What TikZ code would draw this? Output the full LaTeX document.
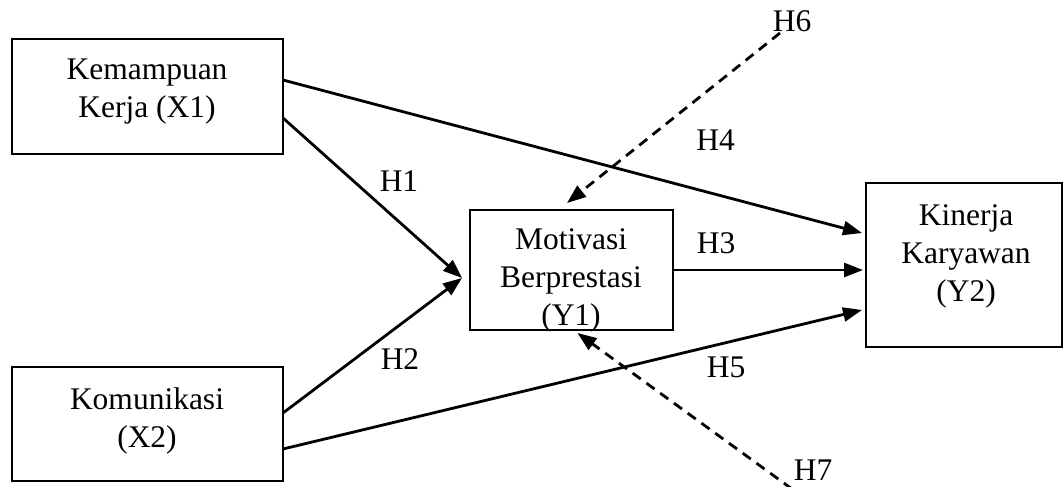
\documentclass[tikz,border=0pt]{standalone}
\usepackage{fontspec}
\setmainfont{Liberation Serif}
\usetikzlibrary{arrows.meta}

\begin{document}
\begin{tikzpicture}[x=1pt,y=-1pt,
  varbox/.style={draw, line width=2.2pt, inner sep=0pt, outer sep=0pt},
  vartext/.style={align=center, inner sep=0pt,
    font=\fontsize{31.5}{38}\selectfont},
  hyplabel/.style={anchor=base, inner sep=0pt,
    font=\fontsize{31.5}{38}\selectfont},
  path/.style={line width=2.8pt, -{Triangle[length=19pt,width=14pt]}},
  moderator/.style={path, dash pattern=on 10pt off 7pt}]

  \useasboundingbox (0,0) rectangle (1063,487);

  % variable boxes
  \node[varbox, minimum width=271pt, minimum height=115pt] (x1) at (147.5,96.5) {};
  \node[varbox, minimum width=271pt, minimum height=114pt] (x2) at (147.5,424) {};
  \node[varbox, minimum width=203pt, minimum height=120pt] (y1) at (571.5,270) {};
  \node[varbox, minimum width=196pt, minimum height=164pt] (y2) at (964,265) {};

  % box captions
  \node[vartext] (x1t) at (147,92) {Kemampuan\\Kerja (X1)};
  \node[vartext] (x2t) at (147,421) {Komunikasi\\(X2)};
  \node[vartext] (y1t) at (571,280.5) {Motivasi\\Berprestasi\\(Y1)};
  \node[vartext] (y2t) at (966,256.5) {Kinerja\\Karyawan\\(Y2)};

  % direct paths
  \draw[path] ([yshift=-21.5pt]x1.east) -- ([xshift=-8pt,yshift=-8pt]y1.west);
  \draw[path] ([yshift=11pt]x2.east) -- ([xshift=-8pt,yshift=-8pt]y1.west);
  \draw[path] ([yshift=16.5pt]x1.east) -- ([xshift=-4pt,yshift=32pt]y2.west);
  \draw[path, shorten >=3pt] (y1.east) -- (y1.east -| y2.west);
  \draw[path] ([yshift=-25pt]x2.east) -- ([xshift=-4pt,yshift=-45pt]y2.west);

  % moderating effects
  \coordinate (h6s) at (780,33);
  \coordinate (h7s) at (792,489);
  \draw[moderator] (h6s) -- ([xshift=-4.5pt,yshift=7pt]y1.north);
  \draw[moderator] (h7s) -- ([xshift=6pt,yshift=-3pt]y1.south);

  % hypothesis labels
  \node[hyplabel] (h1) at (399,191) {H1};
  \node[hyplabel] (h2) at (400,369) {H2};
  \node[hyplabel] (h3) at (716,253) {H3};
  \node[hyplabel] (h4) at (715.5,150) {H4};
  \node[hyplabel] (h5) at (726,377) {H5};
  \node[hyplabel] (h6) at (792,32) {H6};
  \node[hyplabel] (h7) at (813,480) {H7};
\end{tikzpicture}
\end{document}
